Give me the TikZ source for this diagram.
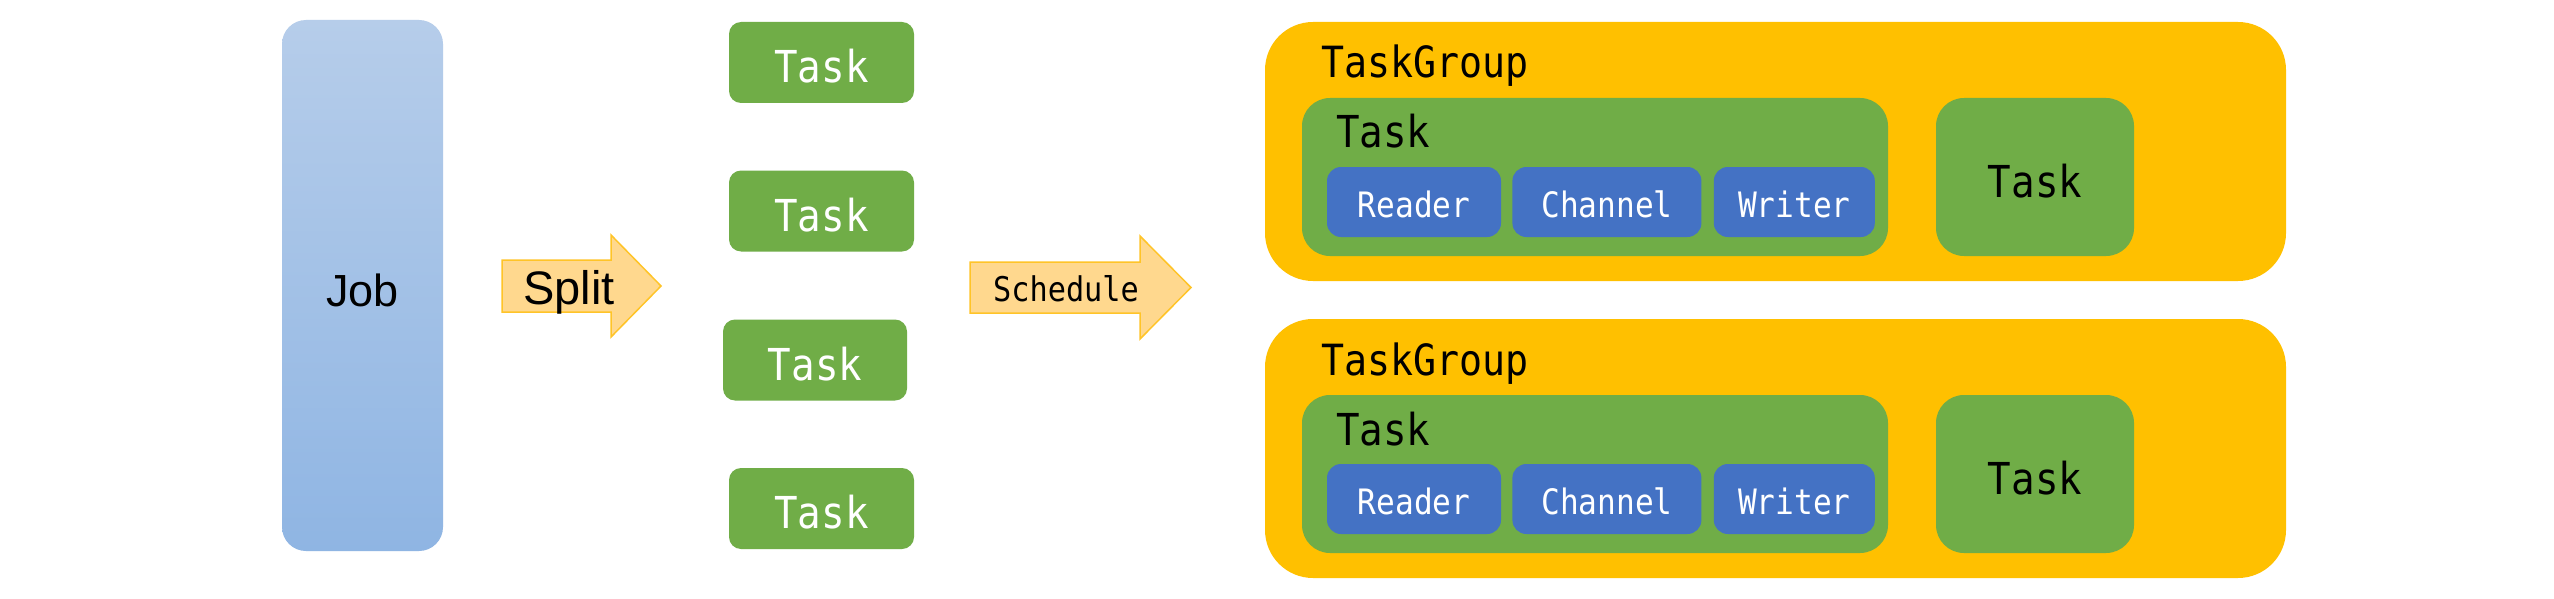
\documentclass[tikz,border=0pt]{standalone}
\usepackage{fontspec}
\usepackage{xcolor}
\newfontfamily\monofont[FakeStretch=0.89]{DejaVu Sans Mono}
\newfontfamily\propfont{Liberation Sans}
\usetikzlibrary{positioning}

\definecolor{jobtop}{RGB}{182,205,234}
\definecolor{jobbot}{RGB}{143,181,227}
\definecolor{taskgreen}{RGB}{112,173,71}
\definecolor{rwblue}{RGB}{68,114,196}
\definecolor{groupgold}{RGB}{255,192,0}
\definecolor{arrowfill}{RGB}{255,216,142}
\definecolor{arrowedge}{RGB}{255,196,40}

\begin{document}
\begin{tikzpicture}[x=1pt,y=-1pt,
   jobbox/.style={rounded corners=24pt,top color=jobtop,bottom color=jobbot,
      minimum width=161pt,minimum height=531pt,inner sep=0pt,
      font=\propfont\fontsize{45}{50}\selectfont,text height=41pt,text depth=0pt},
   smalltask/.style={fill=taskgreen,rounded corners=12pt,minimum width=185pt,
      minimum height=81pt,inner sep=0pt,text=white,
      font=\monofont\fontsize{44}{48}\selectfont,text height=40pt,text depth=0pt},
   groupbox/.style={fill=groupgold,rounded corners=48pt,minimum width=1021pt,
      minimum height=259pt,inner sep=0pt},
   bigtask/.style={fill=taskgreen,rounded corners=28pt,minimum height=158pt,inner sep=0pt,
      font=\monofont\fontsize{44}{48}\selectfont,text height=40pt,text depth=0pt},
   partbox/.style={fill=rwblue,rounded corners=14pt,minimum height=70pt,inner sep=0pt,
      text=white,font=\monofont\fontsize{35}{40}\selectfont,text height=31pt,text depth=0pt},
   caption/.style={anchor=base west,inner sep=0pt,font=\monofont\fontsize{43}{48}\selectfont},
   blockarrow/.style={fill=arrowfill,draw=arrowedge,line width=1.5pt,line join=miter}]

\path[use as bounding box,fill=white] (0,0) rectangle (2554,599);

% job and split
\node[jobbox] (job) at (362.5,285.5) {Job};
\coordinate (split) at (502,286);
\draw[blockarrow] (split) ++(0,-26) -- ++(109,0) -- ++(0,-25) -- ++(50,51)
   -- ++(-50,51) -- ++(0,-25) -- ++(-109,0) -- cycle;
\node[anchor=base west,inner sep=0pt,font=\propfont\fontsize{47}{52}\selectfont]
   (splittext) at (523,304) {Split};

% tasks
\node[smalltask] (task1) at (821.5,62.5) {Task};
\node[smalltask] (task2) at (821.5,211) {Task};
\node[smalltask,minimum width=184pt] (task3) at (815,360) {Task};
\node[smalltask] (task4) at (821.5,508.5) {Task};

% schedule
\coordinate (sched) at (970,287.5);
\draw[blockarrow] (sched) ++(0,-25.5) -- ++(170,0) -- ++(0,-26) -- ++(51,51.5)
   -- ++(-51,51.5) -- ++(0,-26) -- ++(-170,0) -- cycle;
\node[anchor=base,inner sep=0pt,font=\monofont\fontsize{34}{40}\selectfont]
   (schedtext) at (1066,301) {Schedule};

% task groups
\foreach \g/\dy in {1/0,2/297}{
  \node[groupbox] (group\g) at (1775.5,151.5+\dy) {};
  \node[caption] (grouplabel\g) at (1321,78+\dy) {TaskGroup};
  \node[bigtask,minimum width=586pt] (inner\g) at (1595,177+\dy) {};
  \node[caption,font=\monofont\fontsize{44}{48}\selectfont] (innerlabel\g) at (1336,148+\dy) {Task};
  \node[partbox,minimum width=174pt] (reader\g) at (1414,202+\dy) {Reader};
  \node[partbox,minimum width=189pt,right=11pt of reader\g] (channel\g) {Channel};
  \node[partbox,minimum width=161pt,right=12pt of channel\g] (writer\g) {Writer};
  \node[bigtask,minimum width=198pt] (side\g) at (2035,177+\dy) {Task};
}
\end{tikzpicture}
\end{document}
